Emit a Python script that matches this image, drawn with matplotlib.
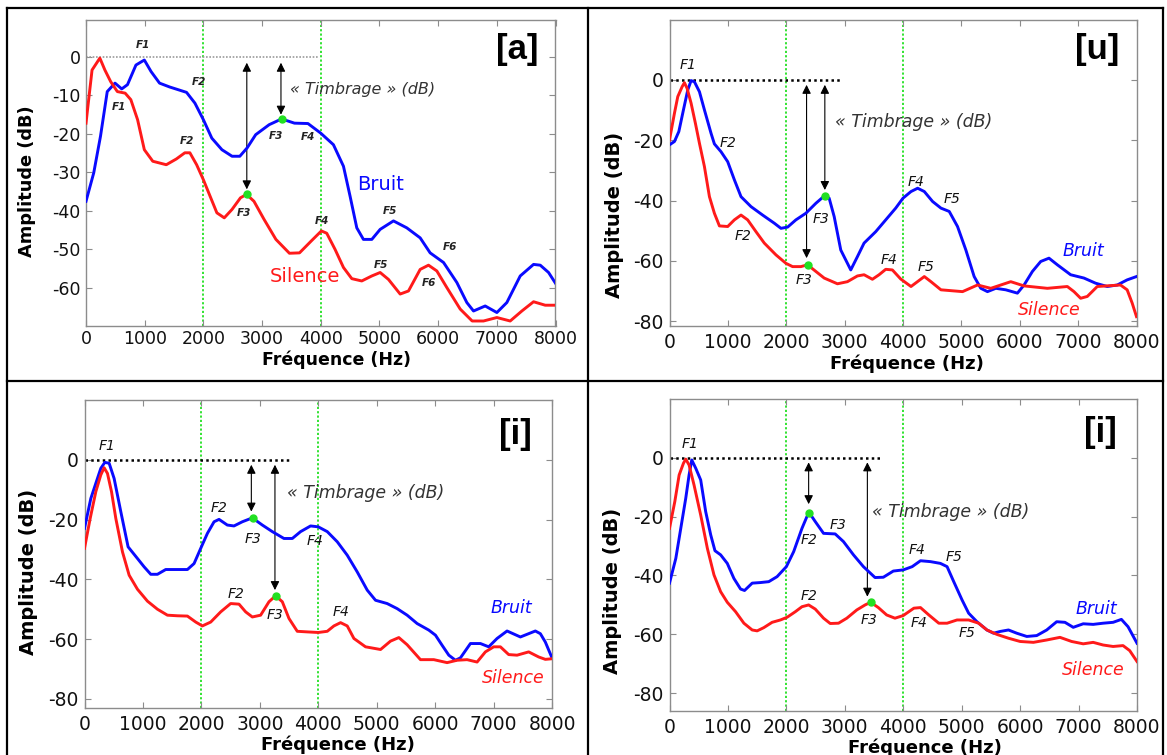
import matplotlib
matplotlib.use('Agg')
import matplotlib.pyplot as plt
from matplotlib.lines import Line2D

# Spectres (dB) : bruit vs silence, voyelles [a], [u], [i], [i]

##########
# Donnees #
##########

a_freq_bruit = [0, 132, 247, 362, 494, 609, 707, 851, 994, 1109, 1253, 1425, 1713, 1856, 2000, 2144, 2316,
                2489, 2621, 2747, 2891, 3121, 3333, 3552, 3782, 4000, 4216, 4387, 4500, 4614, 4727, 4870,
                5012, 5239, 5466, 5694, 5864, 6092, 6319, 6489, 6603, 6802, 7001, 7171, 7399, 7626, 7740,
                7882, 8000]
a_bruit = [-37.6, -30.2, -20.7, -9.1, -6.9, -8.4, -7.3, -2.2, -0.9, -3.9, -6.9, -7.9, -9.3, -12.1, -16.4,
           -21.2, -24.2, -25.9, -25.9, -23.7, -20.3, -17.7, -16.2, -17.3, -17.4, -19.9, -22.9, -28.5, -36.3,
           -44.5, -47.5, -47.5, -44.9, -42.7, -44.5, -47.1, -51.0, -53.5, -58.7, -63.9, -66.1, -64.8, -66.5,
           -63.9, -57.0, -54.0, -54.2, -56.1, -58.9]
a_freq_silence = [0, 103, 236, 322, 420, 534, 667, 764, 879, 994, 1138, 1368, 1540, 1684, 1770, 1885, 2000,
                  2115, 2230, 2356, 2489, 2632, 2736, 2862, 3034, 3236, 3466, 3638, 3839, 4011, 4102, 4244,
                  4387, 4529, 4699, 4870, 5012, 5154, 5353, 5495, 5694, 5836, 5978, 6148, 6376, 6580, 6773,
                  7001, 7228, 7427, 7626, 7825, 8000]
a_silence = [-17.3, -3.5, -0.4, -3.5, -6.5, -9.1, -9.5, -11.2, -16.4, -24.2, -27.2, -28.1, -26.6, -25.0,
             -25.0, -28.1, -32.0, -36.3, -40.6, -41.9, -39.7, -36.7, -35.8, -37.6, -42.3, -47.5, -51.1, -51.0,
             -47.9, -45.3, -45.9, -50.1, -54.8, -57.7, -58.3, -57.0, -56.1, -57.9, -61.7, -60.9, -55.3, -54.2,
             -55.7, -60.0, -65.6, -68.7, -68.7, -67.8, -68.7, -66.1, -63.7, -64.6, -64.6]

u_freq_bruit = [0, 85, 160, 239, 313, 370, 427, 513, 598, 712, 769, 883, 997, 1111, 1225, 1396, 1595, 1795,
                1909, 2023, 2165, 2336, 2507, 2650, 2735, 2821, 2934, 3105, 3219, 3333, 3533, 3704, 3875,
                4000, 4137, 4251, 4365, 4507, 4650, 4792, 4934, 5077, 5219, 5333, 5447, 5590, 5761, 5960,
                6074, 6217, 6359, 6501, 6644, 6872, 7100, 7299, 7499, 7670, 7840, 8000]
u_bruit = [-21.5, -20.4, -17.1, -9.9, -3.3, -0.2, -0.6, -3.9, -9.9, -17.7, -21.2, -23.8, -27.1, -33.1, -38.7,
           -42.0, -44.8, -47.5, -49.2, -48.8, -46.4, -44.2, -40.9, -38.5, -39.2, -45.3, -56.4, -63.0, -58.6,
           -54.1, -50.3, -46.4, -42.5, -39.2, -37.0, -35.9, -37.0, -40.3, -42.5, -43.6, -48.6, -56.4, -65.2,
           -69.1, -70.2, -69.1, -69.6, -70.7, -68.0, -63.5, -60.2, -59.1, -61.3, -64.6, -65.7, -67.4, -68.5,
           -68.0, -66.3, -65.2]
u_freq_silence = [0, 85, 142, 217, 256, 302, 370, 444, 513, 598, 684, 769, 855, 997, 1111, 1225, 1339, 1481,
                  1624, 1823, 1994, 2108, 2251, 2365, 2507, 2650, 2877, 3048, 3219, 3333, 3476, 3590, 3704,
                  3818, 3960, 4137, 4365, 4479, 4650, 5020, 5276, 5504, 5846, 6074, 6473, 6815, 6929, 7043,
                  7157, 7328, 7726, 7840, 7926, 8000]
u_silence = [-19.9, -11.0, -5.5, -2.2, -0.9, -2.8, -7.7, -14.4, -21.0, -28.7, -38.7, -44.2, -48.4, -48.6,
             -46.4, -44.8, -46.4, -50.3, -54.1, -58.0, -60.8, -61.9, -61.9, -61.3, -63.5, -65.7, -67.6, -66.9,
             -65.0, -64.6, -66.1, -64.6, -62.8, -63.0, -66.0, -68.5, -65.2, -66.9, -69.6, -70.2, -68.0, -69.1,
             -66.9, -68.3, -69.1, -68.5, -70.2, -72.4, -71.8, -68.5, -68.0, -69.6, -74.0, -78.5]

i1_freq_bruit = [0, 108, 194, 279, 348, 422, 507, 621, 746, 906, 1020, 1134, 1248, 1390, 1533, 1761, 1875,
                 1989, 2103, 2217, 2302, 2444, 2558, 2701, 2872, 3043, 3214, 3413, 3556, 3698, 3869, 4000,
                 4154, 4325, 4496, 4667, 4838, 4980, 5179, 5350, 5521, 5692, 5892, 6006, 6120, 6234, 6348,
                 6433, 6604, 6775, 6917, 7060, 7231, 7459, 7715, 7801, 7886, 8000]
i1_bruit = [-22.9, -12.9, -7.8, -2.8, -0.8, -1.1, -6.2, -17.3, -29.1, -33.0, -35.8, -38.3, -38.3, -36.7,
            -36.7, -36.7, -34.7, -29.6, -24.6, -20.7, -19.9, -21.8, -22.1, -20.7, -19.4, -21.8, -24.0, -26.3,
            -26.3, -24.0, -22.1, -22.4, -24.0, -27.4, -31.9, -37.5, -43.6, -47.0, -48.1, -49.8, -52.0, -54.8,
            -57.0, -58.7, -62.1, -65.4, -67.1, -66.3, -61.5, -61.5, -62.6, -59.8, -57.3, -59.3, -57.3, -58.2,
            -61.0, -66.3]
i1_freq_silence = [0, 97, 194, 279, 336, 393, 462, 536, 650, 764, 906, 1077, 1248, 1419, 1590, 1761, 1903,
                   2017, 2160, 2330, 2501, 2644, 2758, 2872, 3014, 3157, 3271, 3385, 3499, 3641, 3812, 4000,
                   4154, 4268, 4382, 4496, 4610, 4809, 5066, 5236, 5379, 5521, 5749, 5977, 6205, 6376, 6547,
                   6718, 6860, 7003, 7117, 7259, 7402, 7601, 7772, 7886, 8000]
i1_silence = [-29.6, -19.6, -10.6, -5.0, -2.6, -4.5, -10.6, -19.6, -30.8, -38.6, -43.3, -47.3, -50.0, -52.0,
              -52.2, -52.3, -54.3, -55.6, -54.3, -50.9, -48.1, -48.3, -50.9, -52.6, -52.0, -47.5, -45.5,
              -47.5, -53.1, -57.4, -57.6, -57.8, -57.4, -55.6, -54.5, -55.6, -59.8, -62.6, -63.5, -60.7,
              -59.5, -61.9, -66.9, -66.9, -67.9, -67.1, -66.9, -67.7, -64.3, -62.6, -62.6, -65.2, -65.4,
              -64.3, -66.0, -66.8, -66.6]

i2_freq_bruit = [0, 108, 193, 278, 335, 381, 449, 534, 619, 705, 778, 875, 989, 1102, 1216, 1284, 1415, 1557,
                 1699, 1841, 2000, 2125, 2267, 2352, 2392, 2494, 2636, 2835, 2977, 3148, 3318, 3517, 3659,
                 3830, 4000, 4153, 4295, 4466, 4636, 4750, 4864, 5006, 5119, 5261, 5432, 5545, 5659, 5801,
                 5943, 6114, 6284, 6455, 6625, 6767, 6909, 7080, 7250, 7420, 7591, 7733, 7847, 8000]
i2_bruit = [-42.6, -34.2, -24.0, -13.8, -5.9, -0.8, -3.6, -7.6, -18.3, -26.2, -31.6, -33.0, -35.9, -41.0,
            -44.6, -45.1, -42.6, -42.4, -42.1, -40.4, -37.0, -31.9, -24.0, -20.0, -18.7, -21.7, -25.7, -25.9,
            -28.5, -33.0, -37.0, -40.7, -40.6, -38.5, -38.1, -37.0, -35.0, -35.3, -35.9, -37.0, -42.1, -48.3,
            -52.8, -55.7, -58.5, -59.6, -59.0, -58.5, -59.6, -60.7, -60.4, -58.5, -55.7, -55.9, -57.6, -56.4,
            -56.6, -56.2, -55.9, -54.9, -57.4, -63.0]
i2_freq_silence = [0, 91, 165, 239, 278, 335, 420, 534, 648, 761, 875, 989, 1131, 1273, 1415, 1500, 1614,
                   1756, 1898, 2011, 2153, 2267, 2381, 2494, 2636, 2750, 2892, 3034, 3205, 3347, 3443, 3574,
                   3716, 3858, 4000, 4182, 4295, 4438, 4608, 4750, 4920, 5119, 5290, 5432, 5602, 5801, 6000,
                   6227, 6455, 6682, 6881, 7080, 7250, 7420, 7591, 7761, 7875, 8000]
i2_silence = [-24.0, -14.9, -5.9, -1.9, -0.5, -2.5, -9.3, -19.5, -30.8, -39.8, -45.5, -49.1, -52.3, -56.2,
              -58.5, -58.8, -57.7, -55.9, -55.1, -54.2, -52.3, -50.6, -50.0, -51.4, -54.5, -56.3, -56.2,
              -54.5, -51.7, -50.0, -49.1, -50.9, -53.4, -54.5, -53.6, -51.1, -50.9, -53.4, -56.2, -56.2,
              -55.1, -55.1, -56.2, -58.5, -60.0, -61.3, -62.4, -62.7, -61.9, -61.0, -62.4, -63.2, -62.7,
              -63.6, -64.1, -63.8, -65.5, -69.2]

# points F3 / F2 marques en vert (freq, dB) : bruit puis silence
a_marks = [(3333, -16.2), (2736, -35.8)]
u_marks = [(2665, -38.6), (2365, -61.3)]
i1_marks = [(2883, -19.4), (3271, -45.5)]
i2_marks = [(2392, -18.7), (3443, -49.1)]

# fleches « Timbrage » : (freq, dB bas)
a_arrows = [(2740, -34.5), (3322, -15.1)]
u_arrows = [(2348, -59.1), (2661, -36.5)]
i1_arrows = [(2855, -17.3), (3259, -43.6)]
i2_arrows = [(2381, -15.8), (3386, -47.2)]

freq_ticks = [0, 1000, 2000, 3000, 4000, 5000, 6000, 7000, 8000]

##########
# Figure #
##########

plt.rcParams['font.family'] = ['DejaVu Sans']
plt.rcParams['axes.unicode_minus'] = False

W, H = 1167, 755
fig = plt.figure(figsize=(W / 100, H / 100), dpi=100)
fig.patch.set_facecolor('white')

BLUE = '#0a0aff'
RED = '#ff1a1a'
GREEN = '#22e022'
GRAY = '#8c8c8c'


def fx(x):
    return x / W


def fy(y):
    return 1 - y / H


def panel(box, ylim, yticks, fs_tick, xpad=5):
    left, top, right, bottom = box
    ax = fig.add_axes([fx(left), fy(bottom), (right - left) / W, (bottom - top) / H])
    ax.set_xlim(0, 8000)
    ax.set_ylim(*ylim)
    ax.set_xticks(freq_ticks)
    ax.set_yticks(yticks)
    ax.set_xticklabels([str(t) for t in freq_ticks])
    ax.set_yticklabels([str(t) for t in yticks])
    ax.tick_params(direction='in', top=True, right=True, length=4, width=0.8, color=GRAY,
                   labelsize=fs_tick, labelcolor='#111111')
    ax.tick_params(axis='x', pad=xpad)
    ax.tick_params(axis='y', pad=4)
    for s in ax.spines.values():
        s.set_color(GRAY)
        s.set_linewidth(1.0)
    for f in (2000, 4000):
        ax.axvline(f, color=GREEN, ls=(0, (1.2, 1.2)), lw=1.3, zorder=1)
    return ax


def decorate(ax, zero_end, arrows, marks, zero_style):
    ax.plot([0, zero_end], [0, 0], **zero_style, zorder=2)
    for f, lo in arrows:
        ax.annotate('', xy=(f, lo), xytext=(f, -1.6),
                    arrowprops=dict(arrowstyle='<|-|>', color='k', lw=0.8, mutation_scale=13,
                                    shrinkA=0, shrinkB=0), zorder=3)
    ax.plot([m[0] for m in marks], [m[1] for m in marks], 'o', color=GREEN, ms=5, mec=GREEN, zorder=5)


def label(ax, x, y, s, fs, **kw):
    ax.text(x, y, s, fontsize=fs, ha='center', va='center', **kw)


black_dots = dict(color='k', ls=(0, (1, 1.3)), lw=1.8)
gray_dots = dict(color='#9a9a9a', ls=(0, (1, 1)), lw=1.2)

# ---- [a] ----
ax = panel((86, 20, 555.5, 326), (-70, 9.5), [0, -10, -20, -30, -40, -50, -60], 12.5, xpad=3)
ax.plot(a_freq_bruit, a_bruit, color=BLUE, lw=2.1, zorder=4)
ax.plot(a_freq_silence, a_silence, color=RED, lw=2.1, zorder=4)
decorate(ax, 3954, a_arrows, a_marks, gray_dots)
fk = dict(style='italic', weight='bold', color='#222222')
label(ax, 966, 3.0, 'F1', 7.5, **fk)
label(ax, 563, -13.0, 'F1', 7.5, **fk)
label(ax, 1931, -6.5, 'F2', 7.5, **fk)
label(ax, 1713, -22.0, 'F2', 7.5, **fk)
label(ax, 3236, -20.6, 'F3', 7.5, **fk)
label(ax, 3782, -20.9, 'F4', 7.5, **fk)
label(ax, 2690, -40.6, 'F3', 7.5, **fk)
label(ax, 4017, -42.7, 'F4', 7.5, **fk)
label(ax, 5182, -40.0, 'F5', 7.5, **fk)
label(ax, 6205, -49.4, 'F6', 7.5, **fk)
label(ax, 5023, -54.2, 'F5', 7.5, **fk)
label(ax, 5836, -58.7, 'F6', 7.5, **fk)
label(ax, 5012, -33.2, 'Bruit', 14, color=BLUE)
label(ax, 3734, -57.1, 'Silence', 14, color=RED)
ax.text(3478, -8.6, '« Timbrage » (dB)', fontsize=11.5, style='italic', color='#333333',
        ha='left', va='center')

# ---- [u] ----
ax = panel((669.5, 20, 1136.5, 326), (-81.6, 19.9), [0, -20, -40, -60, -80], 13.5)
ax.plot(u_freq_bruit, u_bruit, color=BLUE, lw=2.1, zorder=4)
ax.plot(u_freq_silence, u_silence, color=RED, lw=2.1, zorder=4)
decorate(ax, 2934, u_arrows, u_marks, black_dots)
fk = dict(style='italic', color='#111111')
label(ax, 313, 5.0, 'F1', 10, **fk)
label(ax, 997, -21.0, 'F2', 10, **fk)
label(ax, 1254, -51.9, 'F2', 10, **fk)
label(ax, 2604, -46.2, 'F3', 10, **fk)
label(ax, 2308, -66.3, 'F3', 10, **fk)
label(ax, 3761, -59.7, 'F4', 10, **fk)
label(ax, 4222, -33.7, 'F4', 10, **fk)
label(ax, 4849, -39.6, 'F5', 10, **fk)
label(ax, 4393, -62.1, 'F5', 10, **fk)
label(ax, 7083, -56.6, 'Bruit', 12.5, color=BLUE, style='italic')
label(ax, 6501, -76.2, 'Silence', 12.5, color=RED, style='italic')
ax.text(2838, -13.8, '« Timbrage » (dB)', fontsize=12.5, style='italic', color='#333333',
        ha='left', va='center')

# ---- [i] gauche ----
ax = panel((84.5, 400, 552, 708), (-83.1, 20.1), [0, -20, -40, -60, -80], 13.5)
ax.plot(i1_freq_bruit, i1_bruit, color=BLUE, lw=2.1, zorder=4)
ax.plot(i1_freq_silence, i1_silence, color=RED, lw=2.1, zorder=4)
decorate(ax, 3527, i1_arrows, i1_marks, black_dots)
label(ax, 393, 4.7, 'F1', 10, **fk)
label(ax, 2302, -16.2, 'F2', 10, **fk)
label(ax, 2883, -26.5, 'F3', 10, **fk)
label(ax, 3954, -27.2, 'F4', 10, **fk)
label(ax, 2587, -45.0, 'F2', 10, **fk)
label(ax, 3259, -52.0, 'F3', 10, **fk)
label(ax, 4382, -50.9, 'F4', 10, **fk)
label(ax, 7299, -49.6, 'Bruit', 12.5, color=BLUE, style='italic')
label(ax, 7345, -73.0, 'Silence', 12.5, color=RED, style='italic')
ax.text(3470, -10.9, '« Timbrage » (dB)', fontsize=12.5, style='italic', color='#333333',
        ha='left', va='center')

# ---- [i] droite ----
ax = panel((669.5, 399, 1137, 711), (-86, 19.9), [0, -20, -40, -60, -80], 13.5)
ax.plot(i2_freq_bruit, i2_bruit, color=BLUE, lw=2.1, zorder=4)
ax.plot(i2_freq_silence, i2_silence, color=RED, lw=2.1, zorder=4)
decorate(ax, 3602, i2_arrows, i2_marks, black_dots)
label(ax, 347, 4.5, 'F1', 10, **fk)
label(ax, 2381, -27.9, 'F2', 10, **fk)
label(ax, 2892, -22.9, 'F3', 10, **fk)
label(ax, 2381, -46.8, 'F2', 10, **fk)
label(ax, 3420, -55.1, 'F3', 10, **fk)
label(ax, 4239, -31.3, 'F4', 10, **fk)
label(ax, 4864, -33.6, 'F5', 10, **fk)
label(ax, 4267, -56.2, 'F4', 10, **fk)
label(ax, 5091, -59.6, 'F5', 10, **fk)
label(ax, 7307, -51.4, 'Bruit', 12.5, color=BLUE, style='italic')
label(ax, 7250, -72.1, 'Silence', 12.5, color=RED, style='italic')
ax.text(3460, -18.3, '« Timbrage » (dB)', fontsize=12.5, style='italic', color='#333333',
        ha='left', va='center')

# titres des voyelles, axes
for x, y, s in [(517, 50, '[a]'), (1097, 50, '[u]'), (515, 435, '[i]'), (1100, 433, '[i]')]:
    fig.text(fx(x), fy(y), s, fontsize=25, weight='bold', family='Liberation Sans',
             ha='center', va='center')

for x, y, fs in [(27, 181, 12.8), (614, 215, 14), (29, 572, 14), (612, 591, 14)]:
    fig.text(fx(x), fy(y), 'Amplitude (dB)', fontsize=fs, weight='bold', rotation=90,
             ha='center', va='center')

for x, y, fs in [(336, 360, 12.5), (907, 364, 13), (338, 745, 13), (925, 748, 13)]:
    fig.text(fx(x), fy(y), 'Fréquence (Hz)', fontsize=fs, weight='bold', ha='center', va='center')

# cadre du tableau
for xs, ys in [((7, 1163), (8, 8)), ((7, 7), (8, 755)), ((1163, 1163), (8, 755)),
               ((588, 588), (8, 755)), ((7, 1163), (381, 381))]:
    fig.add_artist(Line2D([fx(xs[0]), fx(xs[1])], [fy(ys[0]), fy(ys[1])], color='k', lw=1.6,
                          transform=fig.transFigure))

fig.savefig('out.png', dpi=100)
